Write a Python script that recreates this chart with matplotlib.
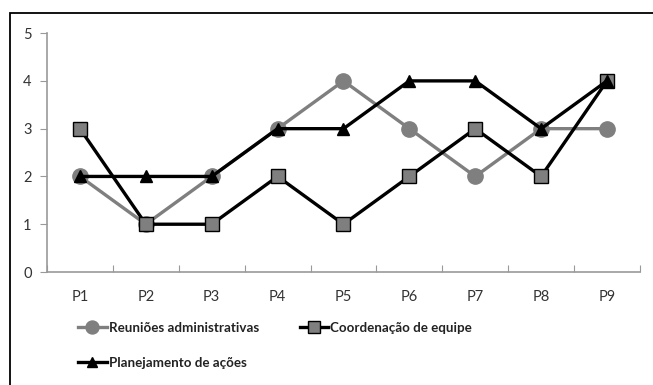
import matplotlib
matplotlib.use('Agg')
import numpy as np
import matplotlib.pyplot as plt
from matplotlib.patches import Rectangle

categories = ['P1', 'P2', 'P3', 'P4', 'P5', 'P6', 'P7', 'P8', 'P9']
reunioes = [2, 1, 2, 3, 4, 3, 2, 3, 3]
coordenacao = [3, 1, 1, 2, 1, 2, 3, 2, 4]
planejamento = [2, 2, 2, 3, 3, 4, 4, 3, 4]

plt.rcParams['font.family'] = ['Lato', 'DejaVu Sans']

fig = plt.figure(figsize=(6.53, 3.85), dpi=100)
ax = fig.add_axes([0.072, 0.2935, 0.908, 0.6205])

x = np.arange(1, len(categories) + 1)
l1, = ax.plot(x, reunioes, color='#7f7f7f', lw=2.4, marker='o', ms=11,
              mfc='#7f7f7f', mec='#7f7f7f', label='Reuniões administrativas', zorder=2)
l2, = ax.plot(x, coordenacao, color='black', lw=2.4, marker='s', ms=9.5,
              mfc='#7f7f7f', mec='black', mew=1.0, label='Coordenação de equipe', zorder=3)
l3, = ax.plot(x, planejamento, color='black', lw=2.4, marker='^', ms=8,
              mfc='black', mec='black', label='Planejamento de ações', zorder=4)

ax.set_xlim(0.5, 9.5)
ax.set_ylim(0, 5)
ax.set_yticks(range(0, 6))
ax.set_xticks(np.arange(0.5, 10, 1))
ax.set_xticklabels([])
ax.set_xticks(x, minor=True)
ax.set_xticklabels(categories, minor=True)
ax.tick_params(axis='x', which='major', direction='in', length=5, color='#999999')
ax.tick_params(axis='x', which='minor', length=0, pad=13, labelsize=10.5, labelcolor='#333333')
ax.tick_params(axis='y', direction='out', length=5, color='#999999', labelsize=10.5,
               labelcolor='#333333', pad=6)

for side in ['top', 'right']:
    ax.spines[side].set_visible(False)
for side in ['left', 'bottom']:
    ax.spines[side].set_color('#999999')
    ax.spines[side].set_linewidth(1.2)

# two columns, filled row by row
leg = fig.legend([l1, l3, l2], [l1.get_label(), l3.get_label(), l2.get_label()],
                 loc='upper left', bbox_to_anchor=(0.101, 0.196), ncol=2,
                 frameon=False, handlelength=2.15, handletextpad=0.15,
                 columnspacing=3.05, labelspacing=1.75, markerscale=0.85,
                 prop={'weight': 'bold', 'size': 9.6})
for t in leg.get_texts():
    t.set_color('#222222')

# outer frame around the chart area
fig.patches.append(Rectangle((10 / 653, -0.1), 1.1, 0.1 + 1 - 13 / 385,
                             transform=fig.transFigure, fill=False,
                             edgecolor='black', lw=1.3))

fig.savefig('out.png', dpi=100)
